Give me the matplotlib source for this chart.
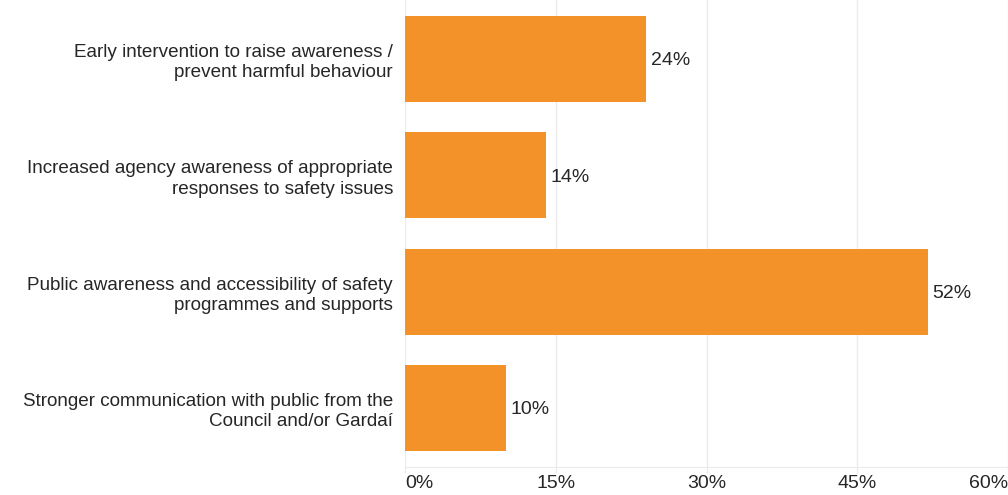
import matplotlib.pyplot as plt
import numpy as np

plt.rcParams['font.family'] = ['Liberation Sans', 'DejaVu Sans']

# data
categories = ["Early intervention to raise awareness /\nprevent harmful behaviour",
              "Increased agency awareness of appropriate\nresponses to safety issues",
              "Public awareness and accessibility of safety\nprogrammes and supports",
              "Stronger communication with public from the\nCouncil and/or Gardaí"]
values = [24, 14, 52, 10]
xticks = [0, 15, 30, 45, 60]

BAR_COL = '#F39229'
TXT_COL = '#262626'
GRID_COL = '#ebebeb'

fig = plt.figure(figsize=(10.08, 4.95), dpi=100)
ax = fig.add_axes([0.4018, 0.0566, 1.0 - 0.4018, 0.9434])

y = np.arange(len(categories))
ax.barh(y, values, height=0.74, color=BAR_COL, zorder=3)

# value labels just right of each bar
for yi, v in zip(y, values):
    ax.text(v + 0.5, yi, '{}%'.format(v), va='center_baseline', ha='left',
            fontsize=14, color=TXT_COL)

ax.set_xlim(0, 60)
ax.set_ylim(3.507, -0.507)
ax.set_yticks(y)
ax.set_yticklabels(categories, fontsize=13.6, color=TXT_COL, linespacing=1.25)
ax.set_xticks(xticks)
ax.set_xticklabels(['{}%'.format(t) for t in xticks], fontsize=14, color=TXT_COL)
labs = ax.get_xticklabels()
labs[0].set_ha('left')
labs[-1].set_ha('right')

ax.tick_params(axis='y', length=0, pad=8.6)
ax.tick_params(axis='x', length=4, width=1, color=GRID_COL, pad=1.5)
ax.grid(axis='x', color=GRID_COL, linewidth=1, zorder=0)
for s in ['top', 'right', 'left']:
    ax.spines[s].set_visible(False)
ax.spines['bottom'].set_color(GRID_COL)

fig.savefig('out.png', dpi=100)
